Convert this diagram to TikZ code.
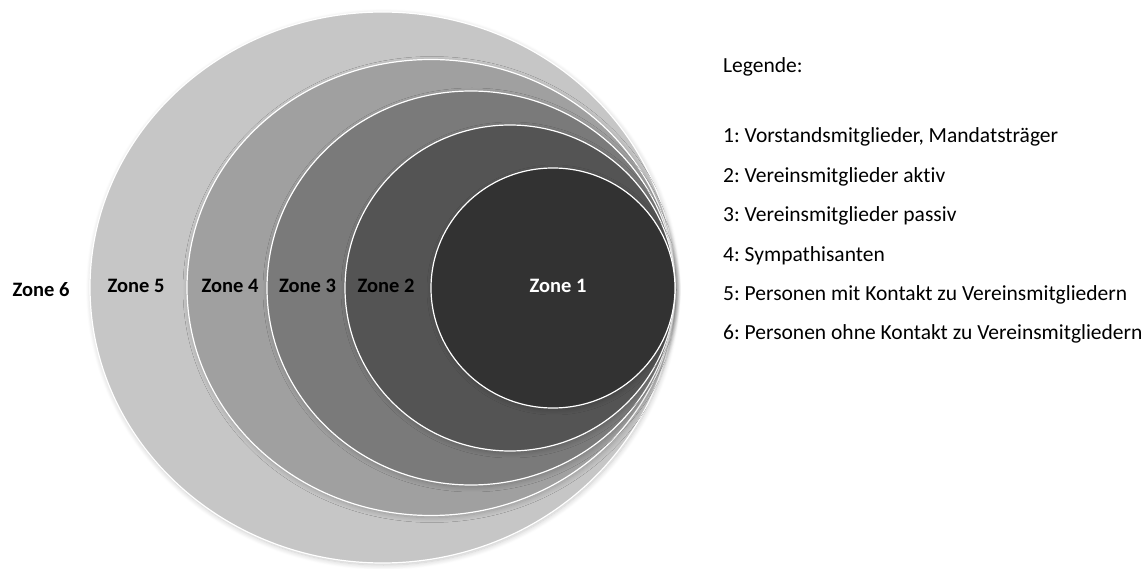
\documentclass[tikz,border=0pt]{standalone}
\usepackage{fontspec}
\setmainfont[Ligatures=NoCommon]{Carlito}
\usepackage{color}
\usepackage{tikz}
\usetikzlibrary{shapes.geometric}
\usetikzlibrary{shadows.blur}
\usetikzlibrary{positioning}
\definecolor{zone_one}{HTML}{323232}
\definecolor{zone_two}{HTML}{545454}
\definecolor{zone_three}{HTML}{7A7A7A}
\definecolor{zone_four}{HTML}{A0A0A0}
\definecolor{zone_five}{HTML}{C6C6C6}
\tikzset{
zone_disc/.style={ellipse, draw=white, line width=1.2pt, inner sep=0pt, blur shadow={shadow xshift=1pt, shadow yshift=-2pt, shadow blur radius=5pt, shadow blur steps=8, shadow opacity=22}},
zone_label/.style={font=\fontsize{20.5}{24}\selectfont\bfseries, inner sep=0pt, anchor=base},
legend_item/.style={font=\fontsize{21.5}{24}\selectfont, inner sep=0pt, text height=14pt, text depth=4pt}
}
\frenchspacing
\begin{document}
\begin{tikzpicture}[x=1pt, y=1pt]
    \useasboundingbox (0,0) rectangle (1146,568);
    % nested zones, all touching on the right
    \node[zone_disc, fill=zone_five, minimum width=585pt, minimum height=551pt] (disc_5) at (382.5,280.5) {};
    \node[zone_disc, fill=zone_four, minimum width=488pt, minimum height=456pt] (disc_4) at (431,280.5) {};
    \node[zone_disc, fill=zone_three, minimum width=408pt, minimum height=394pt] (disc_3) at (471,280) {};
    \node[zone_disc, fill=zone_two, minimum width=330pt, minimum height=326pt] (disc_2) at (510,280) {};
    \node[zone_disc, fill=zone_one, minimum width=244pt, minimum height=240pt] (disc_1) at (553,280) {};
    \node[zone_label] (label_6) at (41,271) {Zone 6};
    \node[zone_label] (label_5) at (136,275) {Zone 5};
    \node[zone_label] (label_4) at (230,275) {Zone 4};
    \node[zone_label] (label_3) at (307.5,275) {Zone 3};
    \node[zone_label] (label_2) at (386,275) {Zone 2};
    \node[zone_label, text=white] (label_1) at (558,275) {Zone 1};
    % legend
    \node[legend_item, anchor=base west] (legend_title) at (723,495) {Legende:};
    \node[legend_item, anchor=base west] (legend_1) at (723,425) {1: Vorstandsmitglieder, Mandatsträger};
    \node[legend_item, below right=21pt and 0pt of legend_1.south west] (legend_2) {2: Vereinsmitglieder aktiv};
    \node[legend_item, below right=21pt and 0pt of legend_2.south west] (legend_3) {3: Vereinsmitglieder passiv};
    \node[legend_item, below right=21pt and 0pt of legend_3.south west] (legend_4) {4: Sympathisanten};
    \node[legend_item, below right=21pt and 0pt of legend_4.south west] (legend_5) {5: Personen mit Kontakt zu Vereinsmitgliedern};
    \node[legend_item, below right=21pt and 0pt of legend_5.south west] (legend_6) {6: Personen ohne Kontakt zu Vereinsmitgliedern};
\end{tikzpicture}
\end{document}
